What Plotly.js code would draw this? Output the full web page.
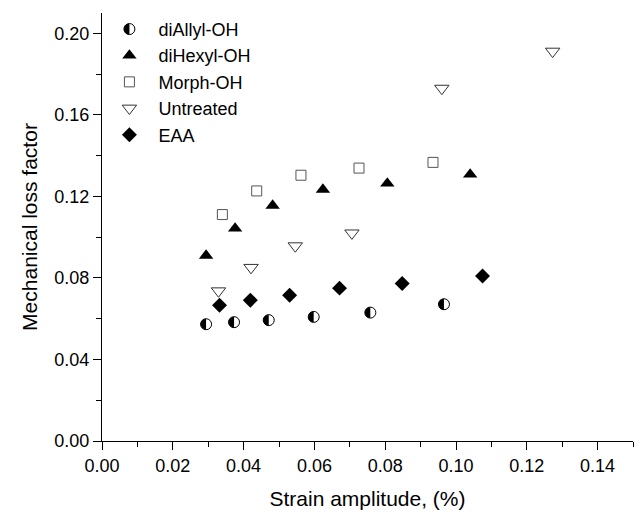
<!DOCTYPE html>
<html>
<head>
<meta charset="utf-8">
<script src="https://cdn.plot.ly/plotly-3.0.1.min.js"></script>
<style>html,body{margin:0;padding:0;background:#fff;}#chart{width:638px;height:512px;}</style>
</head>
<body>
<div id="chart"></div>
<script>
// ---- data ----
var diAllylX = [0.0294, 0.0373, 0.0471, 0.0598, 0.0758, 0.0966];
var diAllylY = [0.0573, 0.0583, 0.0593, 0.0609, 0.0630, 0.0671];

var diHexylX = [0.0294, 0.0376, 0.0482, 0.0624, 0.0806, 0.1040];
var diHexylY = [0.0910, 0.1043, 0.1155, 0.1234, 0.1264, 0.1308];

var morphX = [0.0340, 0.0437, 0.0562, 0.0726, 0.0935];
var morphY = [0.1111, 0.1227, 0.1304, 0.1339, 0.1367];

var untreatedX = [0.0329, 0.0421, 0.0546, 0.0706, 0.0960, 0.1273];
var untreatedY = [0.0736, 0.0851, 0.0957, 0.1020, 0.1730, 0.1912];

var eaaX = [0.0332, 0.0419, 0.0530, 0.0671, 0.0848, 0.1075];
var eaaY = [0.0666, 0.0691, 0.0715, 0.0750, 0.0773, 0.0810];

var seriesNames = ["diAllyl-OH", "diHexyl-OH", "Morph-OH", "Untreated", "EAA"];

var FONT = "'Liberation Sans', Arial, sans-serif";

var traces = [
  {x: diAllylX, y: diAllylY, name: seriesNames[0], mode: "markers", type: "scatter",
   marker: {symbol: "circle", size: 11, color: "#ffffff", line: {color: "#000", width: 1}}},
  {x: diHexylX, y: diHexylY, name: seriesNames[1], mode: "markers", type: "scatter",
   marker: {symbol: "triangle-up", size: 12.5, color: "#000", line: {width: 0}}},
  {x: morphX, y: morphY, name: seriesNames[2], mode: "markers", type: "scatter",
   marker: {symbol: "square-open", size: 10, color: "#555", line: {width: 1}}},
  {x: untreatedX, y: untreatedY, name: seriesNames[3], mode: "markers", type: "scatter",
   marker: {symbol: "triangle-down-open", size: 12.5, color: "#333", line: {width: 1}}},
  {x: eaaX, y: eaaY, name: seriesNames[4], mode: "markers", type: "scatter",
   marker: {symbol: "diamond", size: 11.5, color: "#000", line: {width: 0}}}
];

var axisCommon = {
  showgrid: false, zeroline: false, showline: true, linecolor: "#000", linewidth: 1,
  ticks: "outside", ticklen: 8, tickwidth: 1, tickcolor: "#000",
  tickfont: {family: FONT, size: 18, color: "#000"},
  mirror: false
};

var layout = {
  width: 638, height: 512,
  margin: {l: 102, r: 5, t: 13, b: 71},
  paper_bgcolor: "#fff", plot_bgcolor: "#fff",
  showlegend: true,
  legend: {x: -0.003, y: 1.005, xanchor: "left", yanchor: "top", bgcolor: "rgba(0,0,0,0)",
           font: {family: FONT, size: 18, color: "#000"}, itemwidth: 48, tracegroupgap: 0},
  xaxis: Object.assign({}, axisCommon, {
    range: [0, 0.15], dtick: 0.02, tick0: 0, tickformat: ".2f",
    minor: {dtick: 0.01, ticks: "outside", ticklen: 5, tickcolor: "#000"},
    title: {text: "Strain amplitude, (%)", font: {family: FONT, size: 21, color: "#000"}, standoff: 16}
  }),
  yaxis: Object.assign({}, axisCommon, {
    range: [0, 0.21], dtick: 0.04, tick0: 0, tickformat: ".2f",
    minor: {dtick: 0.02, ticks: "outside", ticklen: 5, tickcolor: "#000"},
    title: {text: "Mechanical loss factor", font: {family: FONT, size: 21, color: "#000"}, standoff: 11}
  })
};

Plotly.newPlot("chart", traces, layout, {displayModeBar: false, staticPlot: true}).then(function (gd) {
  // add left-half black fill to diAllyl markers (plot + legend)
  var r = 5.5;
  var half = "M0," + (-r) + "A" + r + "," + r + " 0 0,0 0," + r + "Z";
  var ns = "http://www.w3.org/2000/svg";
  function addHalf(pt) {
    var p = document.createElementNS(ns, "path");
    p.setAttribute("d", half);
    var tr = pt.getAttribute("transform");
    if (tr) p.setAttribute("transform", tr);
    p.setAttribute("style", "fill:#000;stroke:none;");
    pt.parentNode.appendChild(p);
  }
  var traceGroups = gd.querySelectorAll(".scatterlayer .trace");
  if (traceGroups[0]) traceGroups[0].querySelectorAll("path.point").forEach(addHalf);
  var legendItems = gd.querySelectorAll(".legend .traces");
  if (legendItems[0]) legendItems[0].querySelectorAll(".legendpoints path.scatterpts").forEach(addHalf);
});
</script>
</body>
</html>
